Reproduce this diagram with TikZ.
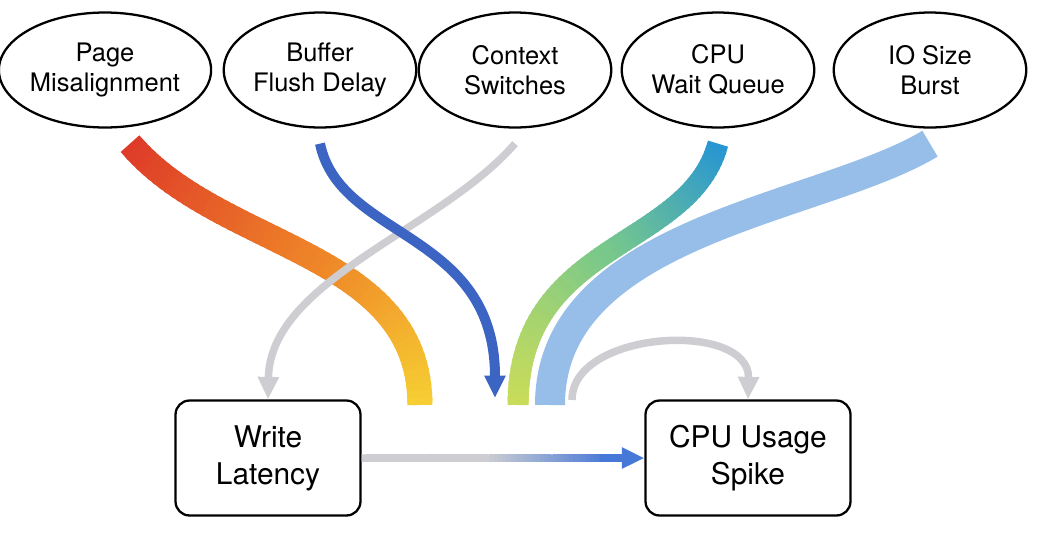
\documentclass[tikz,border=0pt]{standalone}
\usepackage{fontspec}
\setmainfont{TeX Gyre Heros}
\usetikzlibrary{arrows.meta,shapes.geometric,calc}
\definecolor{r1}{RGB}{222,60,40}
\definecolor{r2}{RGB}{238,130,40}
\definecolor{r3}{RGB}{246,205,50}
\definecolor{w1}{RGB}{40,150,210}
\definecolor{w2}{RGB}{120,200,140}
\definecolor{w3}{RGB}{200,220,90}
\definecolor{bf}{RGB}{60,100,195}
\definecolor{io}{RGB}{150,190,232}
\definecolor{gr}{RGB}{205,205,210}
\definecolor{ar}{RGB}{70,120,215}
\newcommand\gradcurve[8]{%
\foreach \i in {0,...,59}{%
 \pgfmathsetmacro\a{\i/60}\pgfmathsetmacro\b{min(1,(\i+1.6)/60)}%
 \ifnum\i<30 \pgfmathsetmacro\m{100*\i/29}\def\ca{#5}\def\cb{#6}\else\pgfmathsetmacro\m{100*(\i-30)/29}\def\ca{#6}\def\cb{#7}\fi
 \path (#1) .. controls (#2) and (#3) .. (#4) coordinate[pos=\a](ga) coordinate[pos=\b](gb);
 \draw[line width=#8, color=\cb!\m!\ca] (ga) -- (gb);}}
\begin{document}
\begin{tikzpicture}[x=0.02cm,y=-0.02cm,
 ell/.style={ellipse,draw,line width=1.3pt,minimum width=3.85cm,minimum height=2.3cm,align=center,font=\fontsize{14.5}{17}\selectfont,inner sep=0pt},
 box/.style={rectangle,rounded corners=8pt,draw,line width=1.3pt,minimum width=3.8cm,minimum height=2.3cm,align=center,font=\fontsize{17}{21}\selectfont},
 tip/.style={-{Triangle[length=0.45cm,width=0.4cm]}}]
\useasboundingbox (0,0) rectangle (1042,535);
\node[ell] (pm) at (105,70) {Page\\Misalignment};
\node[ell] (bfd) at (320,70) {Buffer\\Flush Delay};
\node[ell] (cs) at (515,70) {Context\\Switches};
\node[ell] (cwq) at (718,70) {CPU\\Wait Queue};
\node[ell] (io) at (930,70) {IO Size\\Burst};
\node[box,minimum width=3.7cm] (wl) at (268,458) {Write\\Latency};
\node[box,minimum width=4.1cm] (cu) at (748,458) {CPU Usage\\Spike};
\coordinate (e1) at (420,405);
\coordinate (e4) at (518,405);
\coordinate (e5) at (550,405);
\coordinate (ls) at (572,400);
\coordinate (s1) at ($(pm.south)+(25,15)$);
\coordinate (s4) at ($(cwq.south)+(0,15)$);
\coordinate (m1) at (610,458);
\draw[io,line width=0.6cm] (io.south) ++(0,15) .. controls (820,210) and (550,230) .. (e5);
\gradcurve{s1}{220,250}{420,250}{e1}{r1}{r2}{r3}{0.5cm}
\gradcurve{s4}{690,250}{518,240}{e4}{w1}{w2}{w3}{0.42cm}
\draw[gr,line width=0.15cm,tip] (cs.south) ++(0,15) .. controls (440,230) and (270,280) .. (wl.north);
\draw[bf,line width=0.2cm,tip] (bfd.south) ++(0,15) .. controls (340,240) and (495,230) .. (495,398);
\draw[gr,line width=0.15cm,tip] (ls) .. controls (572,330) and (750,320) .. (cu.north);
\gradcurve{wl.east}{440,458}{530,458}{m1}{gr}{gr}{ar}{0.15cm}
\draw[ar,line width=0.15cm,tip] (600,458) -- (cu.west);
\end{tikzpicture}
\end{document}
